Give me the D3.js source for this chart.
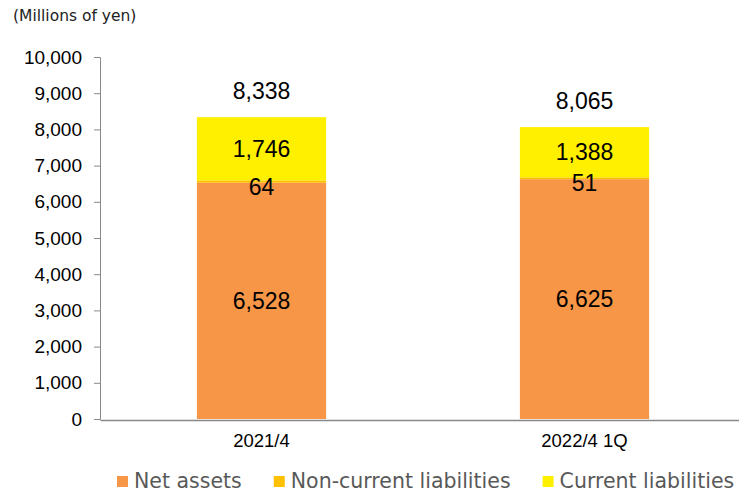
<!DOCTYPE html>
<html>
<head>
<meta charset="utf-8">
<script src="https://cdn.jsdelivr.net/npm/d3@7"></script>
<style>
  body { margin: 0; background: #fff; }
  svg { display: block; }
  .axis text { font-family: "Liberation Sans", Arial, sans-serif; fill: #000; }
  .axis path, .axis line { stroke: #898989; }
</style>
</head>
<body>
<div id="chart"></div>
<script>
// chart values
const categories = ['2021/4', '2022/4 1Q'];
const seriesNames = ['Net assets', 'Non-current liabilities', 'Current liabilities'];
const netAssets = [6528, 6625];
const nonCurrentLiabilities = [64, 51];
const currentLiabilities = [1746, 1388];
const totals = [8338, 8065];
const yTicks = [0, 1000, 2000, 3000, 4000, 5000, 6000, 7000, 8000, 9000, 10000];

const colors = ['#F79646', '#FFC000', '#FFF000'];

const svgwidth = 739;
const svgheight = 492;
const margin = { left: 100, right: -7, top: 57, bottom: 73 };
const width = svgwidth - margin.left - margin.right;
const height = svgheight - margin.top - margin.bottom;

const svg = d3.select('#chart').append('svg')
  .attr('width', svgwidth)
  .attr('height', svgheight);

svg.append('text')
  .attr('x', 13)
  .attr('y', 21)
  .attr('font-family', '"DejaVu Sans", Verdana, sans-serif')
  .attr('font-size', 15.5)
  .attr('fill', '#222')
  .text('(Millions of yen)');

const g = svg.append('g')
  .attr('transform', `translate(${margin.left},${margin.top})`);

const x = d3.scaleBand()
  .domain(categories)
  .range([0, width]);

const y = d3.scaleLinear()
  .domain([0, 10000])
  .range([height, 0]);

// stack the three series
const rows = categories.map((c, i) => ({
  cat: c,
  'Net assets': netAssets[i],
  'Non-current liabilities': nonCurrentLiabilities[i],
  'Current liabilities': currentLiabilities[i],
}));
const stacked = d3.stack().keys(seriesNames)(rows);

const barW = x.bandwidth() * 0.4;

const layer = g.selectAll('.layer')
  .data(stacked)
  .enter()
  .append('g')
  .attr('class', 'layer')
  .attr('fill', (d, i) => colors[i]);

layer.selectAll('rect')
  .data(d => d)
  .enter()
  .append('rect')
  .attr('x', d => x(d.data.cat) + (x.bandwidth() - barW) / 2)
  .attr('y', d => y(d[1]))
  .attr('width', barW)
  .attr('height', d => y(d[0]) - y(d[1]));

// y axis
g.append('g')
  .attr('class', 'axis axis--y')
  .call(d3.axisLeft(y)
    .tickValues(yTicks)
    .tickSize(6)
    .tickSizeOuter(6)
    .tickPadding(12)
    .tickFormat(d3.format(',')))
  .selectAll('text')
  .attr('font-size', 19);

// x axis, no ticks
const xAxis = g.append('g')
  .attr('class', 'axis axis--x')
  .attr('transform', `translate(0,${height + 1})`)
  .call(d3.axisBottom(x).tickSize(0).tickSizeOuter(0).tickPadding(14));
xAxis.selectAll('text').attr('font-size', 18.5);
xAxis.select('.domain').attr('stroke-width', 1.5);

// segment labels
const labelFont = '"Liberation Sans", Arial, sans-serif';
stacked.forEach((s, si) => {
  g.selectAll(`.lbl${si}`)
    .data(s)
    .enter()
    .append('text')
    .attr('x', d => x(d.data.cat) + x.bandwidth() / 2)
    .attr('y', d => (y(d[0]) + y(d[1])) / 2 + (si === 1 ? 5 : 0))
    .attr('dy', '0.35em')
    .attr('text-anchor', 'middle')
    .attr('font-family', labelFont)
    .attr('font-size', 23)
    .attr('fill', '#000')
    .text(d => d3.format(',')(d[1] - d[0]));
});

// totals
g.selectAll('.total')
  .data(categories)
  .enter()
  .append('text')
  .attr('class', 'total')
  .attr('x', d => x(d) + x.bandwidth() / 2)
  .attr('y', (d, i) => y(totals[i]) - 26)
  .attr('dy', '0.35em')
  .attr('text-anchor', 'middle')
  .attr('font-family', labelFont)
  .attr('font-size', 23)
  .attr('fill', '#000')
  .text((d, i) => d3.format(',')(totals[i]));

// legend
const legend = svg.append('g')
  .attr('transform', 'translate(117,481)');
let lx = 0;
seriesNames.forEach((name, i) => {
  const item = legend.append('g').attr('transform', `translate(${lx},0)`);
  item.append('rect')
    .attr('x', 0)
    .attr('y', -5)
    .attr('width', 11)
    .attr('height', 11)
    .attr('fill', colors[i]);
  const t = item.append('text')
    .attr('x', 17)
    .attr('y', 0)
    .attr('dy', '0.35em')
    .attr('font-family', '"DejaVu Sans", Verdana, sans-serif')
    .attr('font-size', 20.5)
    .attr('fill', '#595959')
    .text(name);
  lx += 17 + t.node().getComputedTextLength() + 32;
});
</script>
</body>
</html>
